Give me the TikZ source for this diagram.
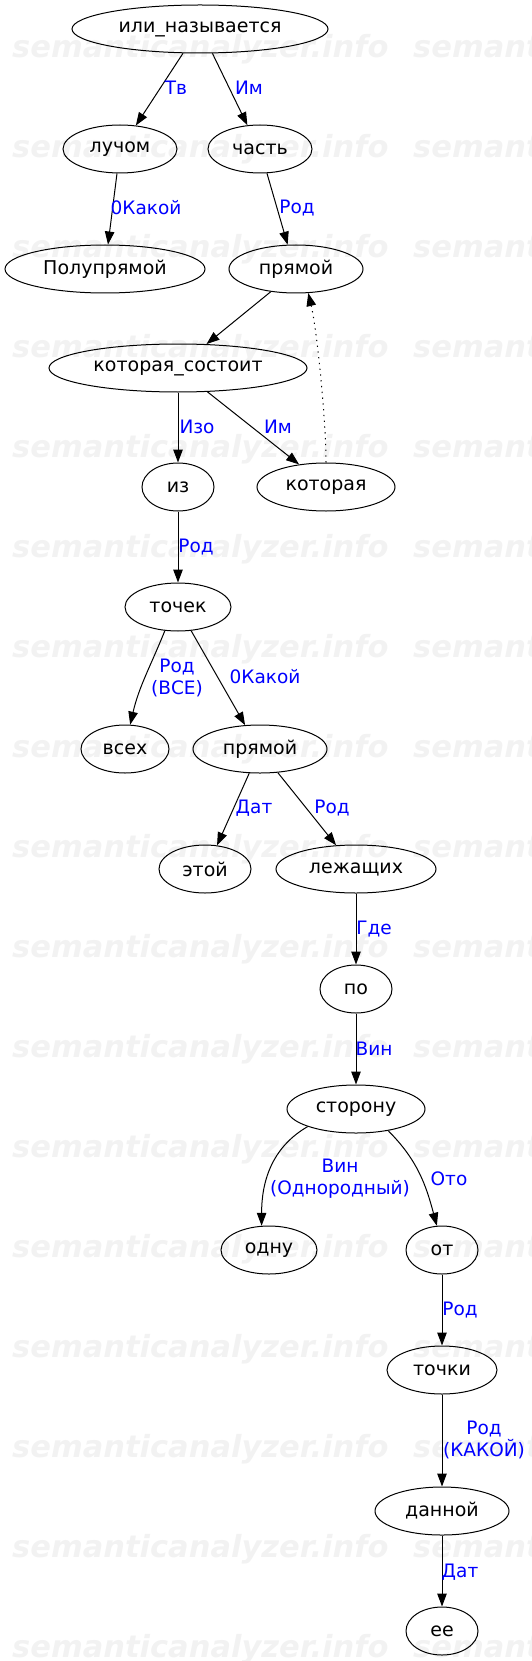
\documentclass[tikz,border=0pt]{standalone}
\usepackage{fontspec}
\setmainfont{DejaVu Sans}
\newfontfamily\wmfont{DejaVu Sans}
\usetikzlibrary{shapes.geometric, arrows.meta}

\begin{document}
\begin{tikzpicture}[x=1pt, y=-1pt,
    word/.style={ellipse, draw, line width=1pt, inner sep=0pt, minimum height=48pt,
        font=\fontsize{19}{22}\selectfont},
    rel/.style={text=blue, align=center, inner sep=0pt, font=\fontsize{18.5}{22}\selectfont},
    link/.style={line width=1pt, -{Triangle[length=13pt, width=9.5pt]}},
    wmark/.style={text=black!5, inner sep=0pt, anchor=west,
        font=\wmfont\bfseries\itshape\fontsize{30.5}{31}\selectfont}]
    % Page frame
    \useasboundingbox (0,0) rectangle (531,1661);

    % Watermark rows
    \foreach \r in {0,...,16} {
        \node[wmark] (wmA\r) at (12, {49+100*\r}) {semanticanalyzer.info};
        \node[wmark] (wmB\r) at (413, {49+100*\r}) {semanticanalyzer.info};
    }

    % Words
    \node[word, minimum width=256pt] (ili)     at (200,29)   {или\_называется};
    \node[word, minimum width=114pt] (luch)    at (120,149)  {лучом};
    \node[word, minimum width=104pt] (chast)   at (260,149)  {часть};
    \node[word, minimum width=200pt] (polu)    at (105,269)  {Полупрямой};
    \node[word, minimum width=134pt] (pryamA)  at (296,269)  {прямой};
    \node[word, minimum width=258pt] (kotsost) at (178,368)  {которая\_состоит};
    \node[word, minimum width=72pt]  (iz)      at (178,487)  {из};
    \node[word, minimum width=138pt] (kotor)   at (326,487)  {которая};
    \node[word, minimum width=106pt] (tochek)  at (178,607)  {точек};
    \node[word, minimum width=88pt]  (vseh)    at (125,749)  {всех};
    \node[word, minimum width=134pt] (pryamB)  at (260,749)  {прямой};
    \node[word, minimum width=92pt]  (etoi)    at (205,869)  {этой};
    \node[word, minimum width=160pt] (lezh)    at (356,869)  {лежащих};
    \node[word, minimum width=72pt]  (po)      at (356,989)  {по};
    \node[word, minimum width=138pt] (storonu) at (356,1109) {сторону};
    \node[word, minimum width=96pt]  (odnu)    at (269,1250) {одну};
    \node[word, minimum width=72pt]  (ot)      at (442,1250) {от};
    \node[word, minimum width=110pt] (tochki)  at (442,1370) {точки};
    \node[word, minimum width=134pt] (dannoi)  at (442,1511) {данной};
    \node[word, minimum width=72pt]  (ee)      at (442,1631) {ее};

    % Relations
    \draw[link] (ili.-125) -- (luch.56);
    \draw[link] (ili.-63) -- (chast.118);
    \draw[link] (luch.-97) -- (polu.83);
    \draw[link] (chast.-74) -- (pryamA.109);
    \draw[link] (pryamA.-138) -- (kotsost.40);
    \draw[link, dash pattern=on 1.3pt off 4.5pt] (kotor.90) .. controls (326,420) and (317,330) .. (pryamA.-63);
    \draw[link] (kotsost.-90) -- (iz.90);
    \draw[link] (kotsost.-39) -- (kotor.140);
    \draw[link] (iz.-90) -- (tochek.90);
    \draw[link] (tochek.-119) to[out=-112, in=77] (vseh.78);
    \draw[link] (tochek.-61) -- (pryamB.122);
    \draw[link] (pryamB.-114) -- (etoi.63);
    \draw[link] (pryamB.-53) -- (lezh.130);
    \draw[link] (lezh.-90) -- (po.90);
    \draw[link] (po.-90) -- (storonu.90);
    \draw[link] (storonu.-160) to[out=-150, in=90] (odnu.107);
    \draw[link] (storonu.-34) to[out=-45, in=105] (ot.102);
    \draw[link] (ot.-90) -- (tochki.90);
    \draw[link] (tochki.-90) -- (dannoi.90);
    \draw[link] (dannoi.-90) -- (ee.90);

    % Relation labels
    \node[rel] (lTv)    at (176,88)   {Тв};
    \node[rel] (lImA)   at (249,88)   {Им};
    \node[rel] (lKakA)  at (146,208)  {0Какой};
    \node[rel] (lRodA)  at (297,208)  {Род};
    \node[rel] (lIzo)   at (197,427)  {Изо};
    \node[rel] (lImB)   at (278,427)  {Им};
    \node[rel] (lRodB)  at (196,547)  {Род};
    \node[rel] (lRodC)  at (177,678)  {Род\\(ВСЕ)};
    \node[rel] (lKakB)  at (265,677)  {0Какой};
    \node[rel] (lDatA)  at (254,808)  {Дат};
    \node[rel] (lRodD)  at (332,808)  {Род};
    \node[rel] (lGde)   at (374,929)  {Где};
    \node[rel] (lVinA)  at (374,1049) {Вин};
    \node[rel] (lVinB)  at (340,1179) {Вин\\(Однородный)};
    \node[rel] (lOto)   at (449,1179) {Ото};
    \node[rel] (lRodE)  at (460,1310) {Род};
    \node[rel] (lRodF)  at (484,1440) {Род\\(КАКОЙ)};
    \node[rel] (lDatB)  at (460,1572) {Дат};
\end{tikzpicture}
\end{document}
